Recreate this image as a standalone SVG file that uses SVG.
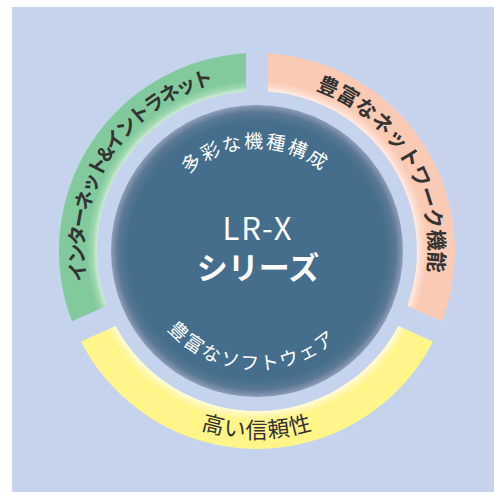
<svg xmlns="http://www.w3.org/2000/svg" xmlns:xlink="http://www.w3.org/1999/xlink" width="494" height="492" viewBox="0 0 494 492">
  <style>
    .jp { font-family: "Noto Sans CJK JP", "Noto Sans", sans-serif; }
    .ring-label { fill: #333333; font-weight: 700; }
    .inner-label { fill: #ffffff; font-size: 19px; letter-spacing: 2px; }
  </style>
  <defs>
    <radialGradient id="gGreen" gradientUnits="userSpaceOnUse" cx="257" cy="251" r="198">
      <stop offset="0.805" stop-color="#d2f0d6"/>
      <stop offset="0.83" stop-color="#9fd8b0"/>
      <stop offset="0.86" stop-color="#82ca9d"/>
      <stop offset="1" stop-color="#82ca9d"/>
    </radialGradient>
    <radialGradient id="gSalmon" gradientUnits="userSpaceOnUse" cx="257" cy="251" r="198">
      <stop offset="0.805" stop-color="#fff0e8"/>
      <stop offset="0.83" stop-color="#fcdac9"/>
      <stop offset="0.86" stop-color="#fbcab4"/>
      <stop offset="1" stop-color="#fbcab4"/>
    </radialGradient>
    <radialGradient id="gYellow" gradientUnits="userSpaceOnUse" cx="257" cy="251" r="198">
      <stop offset="0.805" stop-color="#fffde0"/>
      <stop offset="0.83" stop-color="#fff8b0"/>
      <stop offset="0.86" stop-color="#fff589"/>
      <stop offset="1" stop-color="#fff589"/>
    </radialGradient>
    <radialGradient id="gCore" gradientUnits="userSpaceOnUse" cx="257" cy="251" r="146">
      <stop offset="0" stop-color="#446e8b"/>
      <stop offset="0.88" stop-color="#446e8b"/>
      <stop offset="0.95" stop-color="#5a7894"/>
      <stop offset="1" stop-color="#8d9cb9"/>
    </radialGradient>
    <path id="pGreen" d="M 140.1,378.55 A 173 173 0 0 1 323.2,91.2"/>
    <path id="pSalmon" d="M 194.0,91.0 A 172 172 0 0 1 370.97,379.8"/>
    <path id="pYellow" d="M 81.3,315.0 A 187 187 0 0 0 432.7,315.0"/>
    <path id="pTop" d="M 155.2,235.2 A 103 103 0 0 1 358.0,231.0"/>
    <path id="pBottom" d="M 138.8,265.0 A 119 119 0 0 0 372.8,278.3"/>
  </defs>

  <rect id="background" x="12" y="7" width="482" height="485" fill="#c5d3ec"/>

  <g id="node-internet">
    <path d="M 246,53.31 A 198 198 0 0 0 71.94,321.35 L 106.72,305.87 A 160 160 0 0 1 246,91.38 Z" fill="url(#gGreen)"/>
    <text class="jp ring-label" font-size="20" letter-spacing="-2.6"><textPath href="#pGreen" startOffset="50%" text-anchor="middle">インターネット&amp;イントラネット</textPath></text>
  </g>

  <g id="node-network">
    <path d="M 268,53.31 A 198 198 0 0 1 442.06,321.35 L 407.28,305.87 A 160 160 0 0 0 268,91.38 Z" fill="url(#gSalmon)"/>
    <text class="jp ring-label" font-size="21"><textPath href="#pSalmon" startOffset="50%" text-anchor="middle">豊富なネットワーク機能</textPath></text>
  </g>

  <g id="node-reliability">
    <path d="M 80.88,341.45 A 198 198 0 0 0 433.12,341.45 L 398.34,325.97 A 160 160 0 0 1 115.66,325.97 Z" fill="url(#gYellow)"/>
    <text class="jp" font-size="22" fill="#333333" letter-spacing="0.8"><textPath href="#pYellow" startOffset="50%" text-anchor="middle">高い信頼性</textPath></text>
  </g>

  <g id="node-core">
    <circle cx="257" cy="251" r="146" fill="url(#gCore)"/>
    <text class="jp inner-label"><textPath href="#pTop" startOffset="50%" text-anchor="middle">多彩な機種構成</textPath></text>
    <text class="jp inner-label" letter-spacing="3"><textPath href="#pBottom" startOffset="50%" text-anchor="middle">豊富なソフトウェア</textPath></text>
    <text class="jp" x="258" y="240" font-size="31" letter-spacing="2" fill="#ffffff" text-anchor="middle">LR-X</text>
    <text class="jp" x="258" y="279" font-size="31" font-weight="700" fill="#ffffff" text-anchor="middle">シリーズ</text>
  </g>
</svg>
